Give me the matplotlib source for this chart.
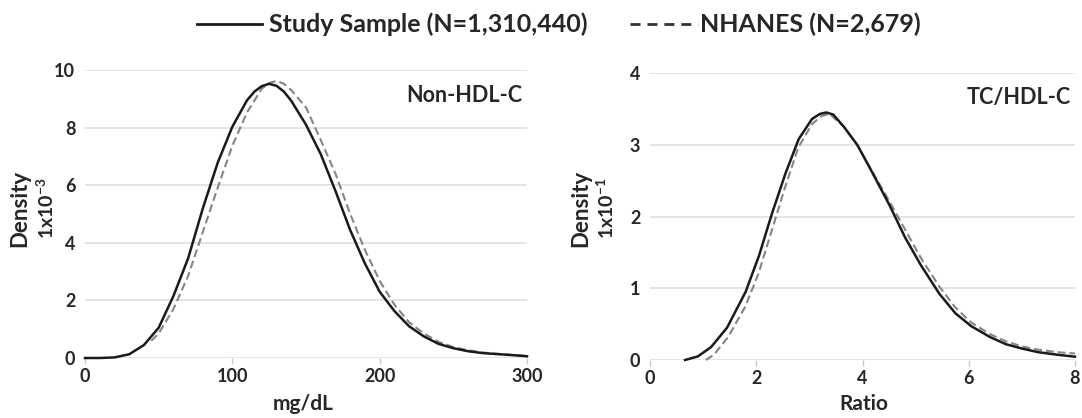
import matplotlib
matplotlib.use("Agg")
import matplotlib.pyplot as plt
from matplotlib.lines import Line2D

# ---- data: Non-HDL-C (mg/dL), density x1e-3
nonhdl_x_study = [0, 10, 20, 30, 40, 50, 60, 70, 80, 90, 100, 110, 115, 120, 125, 130, 135, 140,
                  150, 160, 170, 180, 190, 200, 210, 220, 230, 240, 250, 260, 270, 280, 290, 300]
nonhdl_y_study = [0, 0, 0.02, 0.13, 0.45, 1.05, 2.15, 3.46, 5.2, 6.77, 8.03, 8.95, 9.25, 9.44,
                  9.52, 9.45, 9.25, 8.93, 8.1, 7.08, 5.8, 4.44, 3.28, 2.3, 1.63, 1.1, 0.75,
                  0.49, 0.34, 0.235, 0.17, 0.135, 0.1, 0.06]
nonhdl_x_nhanes = [45, 50, 60, 70, 80, 90, 100, 110, 120, 125, 130, 135, 140, 150, 160, 170, 180,
                   190, 200, 210, 220, 230, 240, 250, 260, 270, 280, 290, 300]
nonhdl_y_nhanes = [0.6, 0.85, 1.7, 2.85, 4.38, 5.9, 7.37, 8.53, 9.35, 9.55, 9.62, 9.52, 9.3,
                   8.7, 7.57, 6.4, 5.0, 3.75, 2.68, 1.85, 1.24, 0.85, 0.56, 0.38, 0.27, 0.19,
                   0.145, 0.105, 0.075]

# ---- data: TC/HDL-C ratio, density x1e-1
ratio_x_study = [0.66, 0.9, 1.15, 1.45, 1.8, 2.05, 2.3, 2.55, 2.8, 3.05, 3.2, 3.32, 3.45, 3.65,
                 3.9, 4.15, 4.5, 4.8, 5.1, 5.45, 5.75, 6.05, 6.4, 6.7, 7.0, 7.3, 7.65, 8.0]
ratio_y_study = [0, 0.05, 0.18, 0.45, 0.95, 1.45, 2.05, 2.6, 3.08, 3.36, 3.43, 3.45, 3.42, 3.25,
                 3.0, 2.66, 2.17, 1.71, 1.32, 0.92, 0.65, 0.47, 0.32, 0.22, 0.16, 0.11, 0.075,
                 0.046]
ratio_x_nhanes = [1.05, 1.2, 1.47, 1.79, 2.04, 2.29, 2.54, 2.79, 3.05, 3.23, 3.38, 3.65, 3.9,
                  4.15, 4.5, 4.8, 5.1, 5.45, 5.75, 6.05, 6.4, 6.7, 7.0, 7.3, 7.65, 8.0]
ratio_y_nhanes = [0, 0.07, 0.32, 0.74, 1.2, 1.8, 2.4, 2.96, 3.29, 3.40, 3.43, 3.25, 3.0, 2.67,
                  2.22, 1.82, 1.42, 1.02, 0.73, 0.52, 0.36, 0.26, 0.19, 0.145, 0.11, 0.09]

legend_labels = ["Study Sample (N=1,310,440)", "NHANES (N=2,679)"]

W, H = 1082, 418
TXT = "#262626"
GRID = "#e2e2e2"
plt.rcParams['font.family'] = ['Lato', 'DejaVu Sans']
plt.rcParams['font.weight'] = 'bold'
plt.rcParams['mathtext.fontset'] = 'custom'
plt.rcParams['mathtext.rm'] = 'Lato:bold'
plt.rcParams['mathtext.bf'] = 'Lato:bold'
plt.rcParams['mathtext.it'] = 'Lato:bold'

fig = plt.figure(figsize=(W / 100, H / 100), dpi=100)
ax1 = fig.add_axes([85 / W, 60 / H, 442 / W, 288 / H])
ax2 = fig.add_axes([650 / W, 58 / H, 425 / W, 287 / H])


def fx(px):
    return px / W


def fy(py_from_top):
    return 1 - py_from_top / H


def style(ax, xticks, yticks, xlim, ylim, xlabel, exp_label, tag, tag_y,
          dens_x, exp_x, xlabel_x):
    ax.set_xlim(*xlim)
    ax.set_ylim(*ylim)
    ax.set_xticks(xticks)
    ax.set_yticks(yticks)
    ax.set_xticklabels([str(t) for t in xticks])
    ax.set_yticklabels([str(t) for t in yticks])
    for s in ax.spines.values():
        s.set_visible(False)
    ax.grid(axis='y', color=GRID, linewidth=1.3, zorder=0)
    ax.set_axisbelow(True)
    ax.tick_params(axis='x', length=4, width=1, color="#c8c8c8", pad=3,
                   labelsize=13, labelcolor=TXT)
    ax.tick_params(axis='y', length=0, pad=7, labelsize=13, labelcolor=TXT)
    fig.text(fx(xlabel_x), fy(404), xlabel, ha='center', va='center',
             fontsize=15, color=TXT, fontweight='bold')
    fig.text(fx(dens_x), fy(208), "Density", rotation=90, ha='center', va='center',
             fontsize=16, color=TXT, fontweight='bold')
    fig.text(fx(exp_x), fy(208), exp_label, rotation=90, ha='center', va='center',
             fontsize=14, color=TXT, fontweight='bold')
    ax.text(0.99, tag_y, tag, transform=ax.transAxes, ha='right', va='center',
            fontsize=15.5, color=TXT, fontweight='bold')


ax1.plot(nonhdl_x_nhanes, nonhdl_y_nhanes, color="#858585", lw=1.5,
         dashes=(3.8, 1.9), zorder=3, clip_on=False)
ax1.plot(nonhdl_x_study, nonhdl_y_study, color="#1a1a1a", lw=1.8, zorder=4, clip_on=False)
style(ax1, [0, 100, 200, 300], [0, 2, 4, 6, 8, 10], (0, 300), (0, 10),
      "mg/dL", r"1x10$^{-3}$", "Non-HDL-C", 0.91, 20, 46, 303)

ax2.plot(ratio_x_nhanes, ratio_y_nhanes, color="#858585", lw=1.5,
         dashes=(3.8, 1.9), zorder=3, clip_on=False)
ax2.plot(ratio_x_study, ratio_y_study, color="#1a1a1a", lw=1.8, zorder=4, clip_on=False)
style(ax2, [0, 2, 4, 6, 8], [0, 1, 2, 3, 4], (0, 8), (0, 4),
      "Ratio", r"1x10$^{-1}$", "TC/HDL-C", 0.915, 581, 606, 864)

# legend (figure coordinates)
ly = fy(24)
fig.add_artist(Line2D([fx(197), fx(262)], [ly, ly], color="#1a1a1a", lw=2.0))
fig.text(fx(269), ly, legend_labels[0], ha='left', va='center', fontsize=18,
         color=TXT, fontweight='bold')
fig.add_artist(Line2D([fx(630), fx(698)], [ly, ly], color="#333333", lw=2.0,
                      dashes=(3.6, 2.5)))
fig.text(fx(700), ly, legend_labels[1], ha='left', va='center', fontsize=18,
         color=TXT, fontweight='bold')

fig.savefig("out.png", dpi=100)
